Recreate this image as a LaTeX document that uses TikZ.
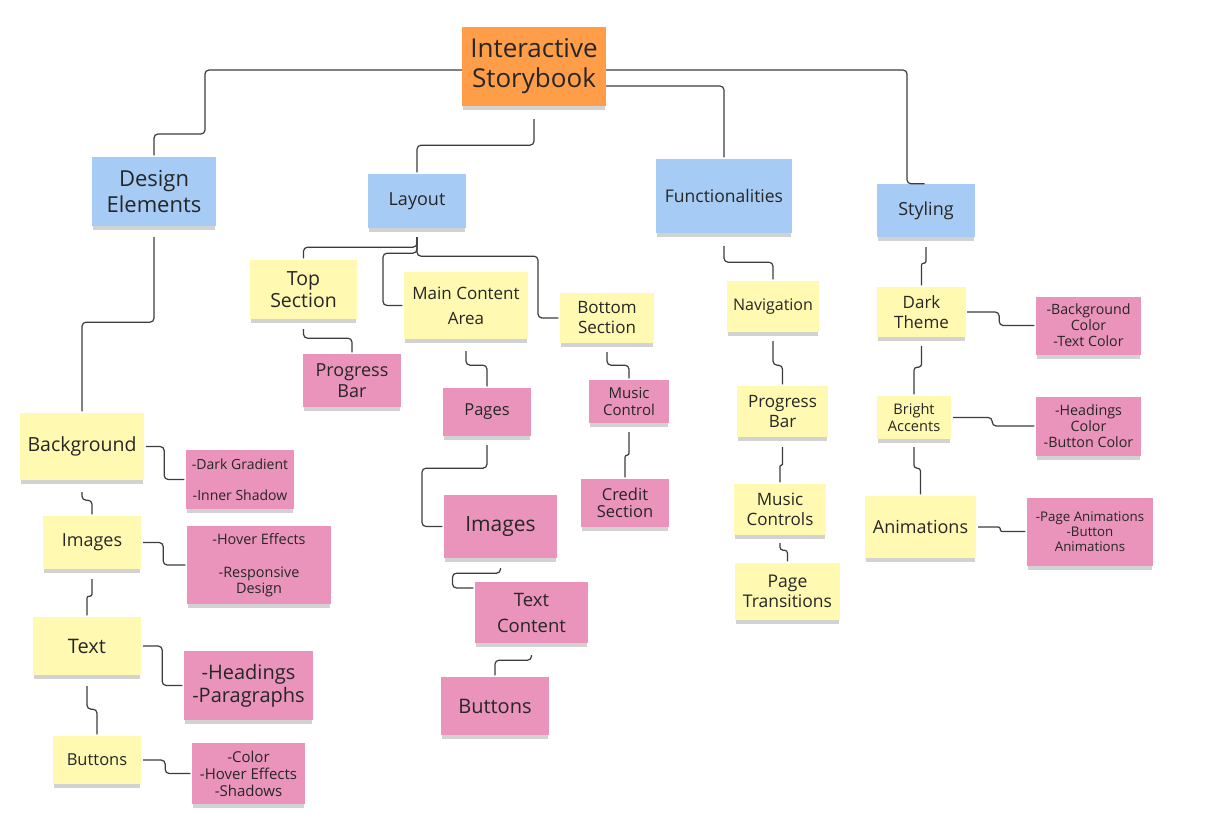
\documentclass[tikz,border=0pt]{standalone}
\usepackage{fontspec}
\setmainfont{Open Sans}
\usetikzlibrary{shadows}
\definecolor{rootorange}{HTML}{FF9D48}
\definecolor{noteblue}{HTML}{A6CCF5}
\definecolor{noteyellow}{HTML}{FFF9B1}
\definecolor{notepink}{HTML}{EA94BB}
\definecolor{notetext}{HTML}{262626}
\definecolor{linegray}{HTML}{3C3C3C}
\newcommand\notefont[2]{\fontsize{#1}{#2}\selectfont}
\tikzset{
	note/.style={rectangle, align=center, inner sep=0pt, text=notetext,
		general shadow={fill=black!80, opacity=0.22, shadow yshift=-5pt, shadow scale=0.98}},
	notesize/.style 2 args={minimum width=#1pt, minimum height=#2pt},
	rootnote/.style={note, fill=rootorange},
	bluenote/.style={note, fill=noteblue},
	yellownote/.style={note, fill=noteyellow},
	pinknote/.style={note, fill=notepink},
	link/.style={draw=linegray, line width=1.2pt, rounded corners=4pt, shorten >=1.5pt},
	tightlink/.style={link, rounded corners=#1pt}
}

\begin{document}
\begin{tikzpicture}[x=1pt, y=-1pt]
			%%%%% START %%%%%
			
			\fill[white] (0,0) rectangle (1222,818);
			\useasboundingbox (0,0) rectangle (1222,818);
			
			% root and main branches
			\node[rootnote, notesize={144}{79}, font=\notefont{26}{30}] (root) at (534,66.5) {Interactive\\Storybook};
			\node[bluenote, notesize={124}{69}, font=\notefont{22}{26}] (design) at (154,191.5) {Design\\Elements};
			\node[bluenote, notesize={98}{54}, font=\notefont{18}{22}] (layout) at (417,201) {Layout};
			\node[bluenote, notesize={136}{74}, font=\notefont{17.5}{21}] (funct) at (724,196) {Functionalities};
			\node[bluenote, notesize={98}{53}, font=\notefont{18}{22}] (styling) at (926,210.5) {Styling};
			
			% design elements
			\node[yellownote, notesize={124}{67}, font=\notefont{19.5}{23}] (bg) at (82,446.5) {Background};
			\node[pinknote, notesize={108}{59}, font=\notefont{14}{16}] (bgnote) at (240,479.5) {-Dark Gradient\\[15pt]-Inner Shadow};
			\node[yellownote, notesize={98}{53}, font=\notefont{18}{22}] (dimg) at (92,542.5) {Images};
			\node[pinknote, notesize={144}{78}, font=\notefont{14.4}{16}] (imgnote) at (259,565) {-Hover Effects\\[17pt]-Responsive\\Design};
			\node[yellownote, notesize={108}{58}, font=\notefont{20}{24}] (dtext) at (87,646) {Text};
			\node[pinknote, notesize={129}{69}, font=\notefont{20}{23}] (textnote) at (248.5,685.5) {-Headings\\-Paragraphs};
			\node[yellownote, notesize={88}{48}, font=\notefont{16.5}{20}] (dbtn) at (97,760) {Buttons};
			\node[pinknote, notesize={113}{61}, font=\notefont{15}{17}] (btnnote) at (248.5,773.5) {-Color\\-Hover Effects\\-Shadows};
			
			% layout
			\node[yellownote, notesize={107}{59}, font=\notefont{19.5}{22}] (topsec) at (303.5,289.5) {Top\\Section};
			\node[yellownote, notesize={124}{67}, font=\notefont{17}{25}] (maincont) at (466,305.5) {Main Content\\Area};
			\node[yellownote, notesize={94}{50}, font=\notefont{17}{20}] (botsec) at (607,318) {Bottom\\Section};
			\node[pinknote, notesize={98}{53}, font=\notefont{18}{21}] (pbar) at (352,380.5) {Progress\\Bar};
			\node[pinknote, notesize={88}{48}, font=\notefont{16.5}{20}] (pages) at (487,412) {Pages};
			\node[pinknote, notesize={80}{43}, font=\notefont{15}{17}] (music) at (629,401.5) {Music\\Control};
			\node[pinknote, notesize={88}{48}, font=\notefont{16.5}{17.5}] (credit) at (625,503) {Credit\\Section};
			\node[pinknote, notesize={113}{63}, font=\notefont{21}{25}] (limg) at (500.5,526.5) {Images};
			\node[pinknote, notesize={113}{61}, font=\notefont{18.5}{26}] (textcont) at (531.5,612.5) {Text\\Content};
			\node[pinknote, notesize={108}{58}, font=\notefont{20}{24}] (lbtn) at (495,706) {Buttons};
			
			% functionalities
			\node[yellownote, notesize={92}{51}, font=\notefont{16}{20}] (nav) at (773,306.5) {Navigation};
			\node[yellownote, notesize={91}{51}, font=\notefont{17}{20}] (fpbar) at (782.5,411.5) {Progress\\Bar};
			\node[yellownote, notesize={92}{51}, font=\notefont{17}{20}] (mctrl) at (780,509.5) {Music\\Controls};
			\node[yellownote, notesize={105}{57}, font=\notefont{17.5}{20}] (ptrans) at (787.5,591.5) {Page\\Transitions};
			
			% styling
			\node[yellownote, notesize={89}{50}, font=\notefont{17}{20}] (dark) at (921.5,312) {Dark\\Theme};
			\node[yellownote, notesize={74}{43}, font=\notefont{14.6}{17}] (bright) at (914,417.5) {Bright\\Accents};
			\node[yellownote, notesize={111}{62}, font=\notefont{18}{22}] (anim) at (920.5,527) {Animations};
			\node[pinknote, notesize={105}{58}, font=\notefont{14.2}{16}] (darknote) at (1088.5,325.5) {-Background\\Color\\-Text Color};
			\node[pinknote, notesize={105}{59}, font=\notefont{14.3}{16}] (brightnote) at (1088.5,426) {-Headings\\Color\\-Button Color};
			\node[pinknote, notesize={126}{68}, font=\notefont{13.3}{15}] (animnote) at (1090,531.5) {-Page Animations\\-Button\\Animations};
			
			% connectors from the root
			\draw[link] (root.west |- 0,70) -| (205,134) -| (design.north);
			\draw[link] (root.south) ++(0,13) -- ++(0,26) -| (layout.north);
			\draw[link] (root.east |- 0,86) -| (funct.north);
			\draw[link] (root.east |- 0,70) -- (907,70) |- (styling.north);
			
			% design elements connectors
			\draw[link] (design.south) ++(0,11) -- ++(0,85) -| (bg.north);
			\draw[link] (bg.south) ++(0,12) -- ++(0,8) -| (dimg.north);
			\draw[tightlink=2] (dimg.south) ++(0,10) -- ++(0,17) -| (dtext.north);
			\draw[link] (dtext.south) ++(0,11) -- ++(0,23) -| (dbtn.north);
			\draw[link] (bg.east) ++(2,0) -- ++(18,0) |- (bgnote.west);
			\draw[link] (dimg.east) ++(2,0) -- ++(20,0) |- (imgnote.west);
			\draw[link] (dtext.east) ++(2,0) -- ++(19,0) |- (textnote.west);
			\draw[link] (dbtn.east) ++(2,0) -- ++(22,0) |- (btnnote.west);
			
			% layout connectors
			\draw[link] (layout.south) ++(0,9) -- ++(0,10) -| (topsec.north);
			\draw[link] (layout.south) ++(0,9) -- ++(0,16) -- ++(-34,0) |- (maincont.west);
			\draw[link] (layout.south) ++(0,9) -- ++(0,19) -- ++(121,0) |- (botsec.west);
			\draw[link] (topsec.south) ++(0,10) -- ++(0,9) -| (pbar.north);
			\draw[link] (maincont.south) ++(0,12) -- ++(0,14) -| (pages.north);
			\draw[link] (pages.south) ++(0,9) -- ++(0,23) -- ++(-65,0) |- (limg.west);
			\draw[link] (limg.south) ++(0,10) -- ++(0,5) -- ++(-48,0) |- (textcont.west |- 0,588);
			\draw[link] (textcont.south) ++(0,12) -- ++(0,5) -| (lbtn.north);
			\draw[link] (botsec.south) ++(0,9) -- ++(0,13) -| (music.north);
			\draw[tightlink=2] (music.south) ++(0,9) -- ++(0,23) -| (credit.north);
			
			% functionalities connectors
			\draw[link] (funct.south) ++(0,13) -- ++(0,16) -| (nav.north);
			\draw[link] (nav.south) ++(0,9) -- ++(0,24) -| (fpbar.north);
			\draw[tightlink=1] (fpbar.south) ++(0,10) -- ++(0,18) -| (mctrl.north);
			\draw[tightlink=3] (mctrl.south) ++(0,8) -- ++(0,7) -| (ptrans.north);
			
			% styling connectors
			\draw[tightlink=2] (styling.south) ++(0,10) -- ++(0,16) -| (dark.north);
			\draw[tightlink=3] (dark.south) ++(0,9) -- ++(0,21) -| (bright.north);
			\draw[tightlink=3] (bright.south) ++(0,8) -- ++(0,21) -| (anim.north);
			\draw[link] (dark.east) ++(1,0) -- ++(32,0) |- (darknote.west);
			\draw[link] (bright.east) ++(2,0) -- ++(39,0) |- (brightnote.west);
			\draw[tightlink=2] (anim.east) ++(2,0) -- ++(22,0) |- (animnote.west);
			
			%%%%% END %%%%%
\end{tikzpicture}
\end{document}
